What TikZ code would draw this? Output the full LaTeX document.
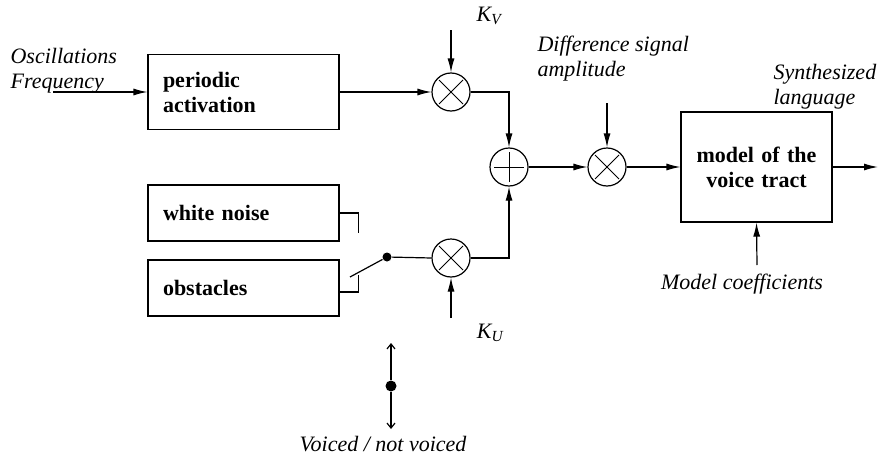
\documentclass[tikz,border=0pt]{standalone}
\usepackage{fontspec}
\setmainfont{Liberation Serif}
\usetikzlibrary{arrows.meta, positioning, calc}
\newcommand{\diafont}{\fontsize{22}{25}\selectfont}
\tikzset{
  every picture/.style={line width=1.2pt},
  blk/.style={draw, font=\diafont\bfseries, align=left, text width=161pt, inner xsep=15pt, inner ysep=0pt},
  mult/.style={circle, draw, minimum size=38pt, inner sep=0pt,
    path picture={
      \draw[line width=0.9pt] ([shift={(-12pt,-12pt)}]path picture bounding box.center) -- ([shift={(12pt,12pt)}]path picture bounding box.center);
      \draw[line width=0.9pt] ([shift={(-12pt,12pt)}]path picture bounding box.center) -- ([shift={(12pt,-12pt)}]path picture bounding box.center);
    }},
  addr/.style={circle, draw, minimum size=38pt, inner sep=0pt,
    path picture={
      \draw[line width=0.9pt] ([xshift=-15pt]path picture bounding box.center) -- ([xshift=15pt]path picture bounding box.center);
      \draw[line width=0.9pt] ([yshift=-15pt]path picture bounding box.center) -- ([yshift=15pt]path picture bounding box.center);
    }},
  dot/.style={circle, fill, inner sep=0pt, minimum size=9pt},
  arr/.style={-{Latex[length=14pt, width=7pt]}},
  barb/.style={-{Straight Barb[length=5pt, width=8pt]}},
  lbl/.style={font=\diafont\itshape, align=left, inner sep=0pt},
}
\begin{document}
\begin{tikzpicture}[x=1pt, y=-1pt]
  \useasboundingbox (0,0) rectangle (878,463);

  % blocks
  \node[blk, minimum height=75pt] (act) at (243.5,92) {periodic\\activation};
  \node[blk, minimum height=56pt] (wn) at (243.5,213) {white noise};
  \node[blk, minimum height=56pt] (obs) at (243.5,288) {obstacles};
  \node[blk, font=\diafont\bfseries, align=center, text width=121pt, minimum height=110pt] (vt) at (756.5,167) {model of the\\voice tract};

  % multipliers and adder
  \node[mult] (m1) at (451,92) {};
  \node[mult] (m2) at (451,258) {};
  \node[addr] (add) at (509,167) {};
  \node[mult] (m3) at (607,167) {};

  % texts
  \node[lbl, anchor=north west] (osc) at (10,48) {Oscillations\\Frequency};
  \node[lbl] (kv) at (489,16) {K\textsubscript{V}};
  \node[lbl] (ku) at (490,333) {K\textsubscript{U}};
  \node[lbl, anchor=north west] (amp) at (537,35) {Difference signal\\amplitude};
  \node[lbl, anchor=north west] (syn) at (773,64) {Synthesized\\language};
  \node[lbl] (coef) at (742,284) {Model coefficients};
  \node[lbl] (voi) at (383,444) {Voiced / not voiced};

  % free ends
  \coordinate (fin) at (53,92);
  \coordinate (kvin) at (451,30);
  \coordinate (kuin) at (451,318);
  \coordinate (ampin) at (607,103);
  \coordinate (coefin) at (757,265);
  \coordinate (out) at (878,167);

  \draw[arr] (fin) -- (act.west);
  \draw[arr] (act.east) -- (m1.west);
  \draw[arr] (kvin) -- (m1.north);
  \draw[arr] (kuin) -- (m2.south);
  \draw[arr] (m1.east) -| (add.north);
  \draw[arr] (m2.east) -| (add.south);
  \draw[arr] (add.east) -- (m3.west);
  \draw[arr] (ampin) -- (m3.north);
  \draw[arr] (m3.east) -- (vt.west);
  \draw[arr] (coefin) -- (vt.south);
  \draw[arr] (vt.east) -- (out);

  % switch
  \node[dot] (sw) at (387,257) {};
  \coordinate (lev) at (350,277);
  \draw (wn.east) -- ++(19,0) -- ++(0,20);
  \draw ([yshift=-4pt]obs.east) -- ++(19,0) -- ++(0,-17);
  \draw (lev) -- (sw);
  \draw (sw) -- (m2.west);

  % voiced / not voiced selector
  \node[dot, minimum size=11pt] (vsel) at (391,386) {};
  \coordinate (vup) at (391,343);
  \coordinate (vdn) at (391,429);
  \draw[barb] (vsel) -- (vup);
  \draw[barb] (vsel) -- (vdn);
\end{tikzpicture}
\end{document}
